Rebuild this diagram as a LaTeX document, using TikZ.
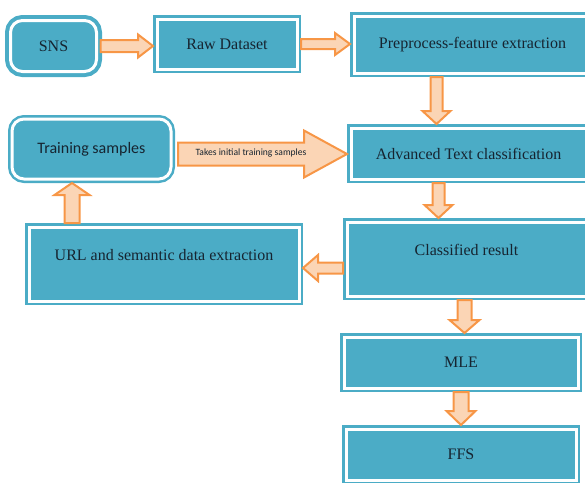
\documentclass[tikz,border=0pt]{standalone}
\usepackage{fontspec}
\setmainfont{Liberation Serif}
\newfontfamily\calibfont{Carlito}
\usepackage{xcolor}
\usepackage{tikz}
\usetikzlibrary{calc}

\definecolor{boxteal}{RGB}{75,172,198}
\definecolor{boxtext}{RGB}{22,36,48}
\definecolor{arrowedge}{RGB}{247,150,70}
\definecolor{arrowfill}{RGB}{251,213,181}

\tikzset{
  stage/.style={draw=boxteal, fill=boxteal, line width=1.25pt, double=white, double distance=1.5pt,
    inner sep=0pt, outer sep=2pt, text=boxtext, font=\fontsize{8}{9.6}\selectfont},
  roundstage/.style={stage, rounded corners=6pt},
  hightext/.style={text height=6pt, text depth=9.6pt},
  fat/.style n args={3}{draw=arrowedge, fill=arrowfill, line width=1pt, line join=miter,
    to path={($(\tikztostart)!#1!90:(\tikztotarget)$)
      -- ($(\tikztotarget)!#3!(\tikztostart)!#1!90:(\tikztotarget)$)
      -- ($(\tikztotarget)!#3!(\tikztostart)!#2!90:(\tikztotarget)$)
      -- (\tikztotarget)
      -- ($(\tikztotarget)!#3!(\tikztostart)!#2!-90:(\tikztotarget)$)
      -- ($(\tikztotarget)!#3!(\tikztostart)!#1!-90:(\tikztotarget)$)
      -- ($(\tikztostart)!#1!-90:(\tikztotarget)$) -- cycle}}
}

\begin{document}
\begin{tikzpicture}[x=0.5pt,y=-0.5pt]
\useasboundingbox (0,0) rectangle (585,483);
\clip (0,0) rectangle (585,483);

% Top row
\node[roundstage, line width=2pt, minimum width=43pt, minimum height=25.5pt] (sns) at (53.5,46) {SNS};
\node[stage, minimum width=70pt, minimum height=25pt] (raw) at (227,44) {Raw Dataset};
\node[stage, minimum width=118.5pt, minimum height=28.5pt] (prep) at (472.5,44.5) {Preprocess-feature extraction};

% Training loop
\node[roundstage, minimum width=79.5pt, minimum height=30pt, font=\calibfont\fontsize{8}{9.6}\selectfont] (train) at (91.5,149) {Training samples};
\node[stage, minimum width=117.5pt, minimum height=25.5pt] (adv) at (468.5,153.5) {Advanced Text classification};
\node[stage, hightext, minimum width=135pt, minimum height=37pt] (url) at (164,264) {URL and semantic data extraction};
\node[stage, hightext, minimum width=119.5pt, minimum height=37pt] (cls) at (466.5,259) {Classified result};

% Bottom
\node[stage, minimum width=117pt, minimum height=25.5pt] (mle) at (461,362.5) {MLE};
\node[stage, minimum width=115pt, minimum height=25.5pt] (ffs) at (461,454.5) {FFS};

% Block arrows
\draw[fat={3pt}{5.75pt}{7.5pt}] (sns.east) to (sns.east -| raw.west);
\draw[fat={2.5pt}{5.5pt}{7.5pt}] (raw.east) to (raw.east -| prep.west);
\draw[fat={3pt}{7pt}{6.5pt}] ([xshift=-18pt]prep.south) to ([xshift=-18pt]prep.south |- adv.north);
\draw[fat={3pt}{7pt}{6.5pt}] ([xshift=-15pt]adv.south) to ([xshift=-15pt]adv.south |- cls.north);
\draw[fat={2.75pt}{6.5pt}{7.5pt}] ([yshift=-4.5pt]cls.west) to ([yshift=-4.5pt]cls.west -| url.east);
\draw[fat={3.75pt}{8.75pt}{6pt}] ([xshift=-46pt]url.north) to ([xshift=-46pt]url.north |- train.south);
\draw[fat={5.75pt}{11.75pt}{21.5pt}] ([xshift=1.5pt,yshift=-2.5pt]train.east) to ([yshift=-2.5pt]train.east -| adv.west);
\draw[fat={3.5pt}{7.5pt}{6.5pt}] ([xshift=-1pt]cls.south) to ([xshift=-1pt]cls.south |- mle.north);
\draw[fat={3.75pt}{7.25pt}{7pt}] (mle.south) to (mle.south |- ffs.north);

\node[font=\calibfont\fontsize{4.8}{5.8}\selectfont, text=boxtext, inner sep=0pt] (takes) at (251,153) {Takes initial training samples};
\end{tikzpicture}
\end{document}
